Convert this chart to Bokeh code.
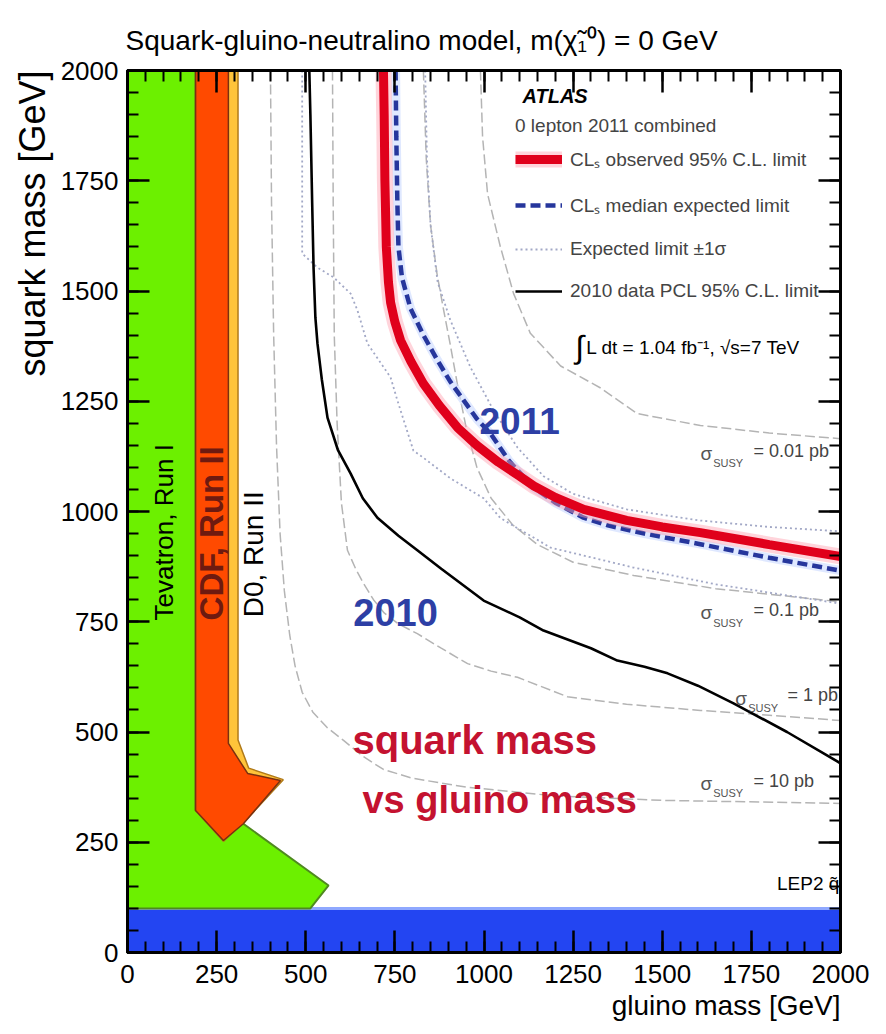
import math
from bokeh.plotting import figure
from bokeh.models import (Label, Legend, LegendItem, LinearAxis, Range1d, Title,
                          SingleIntervalTicker, CustomJSTickFormatter)
from bokeh.embed import file_html
from bokeh.resources import INLINE

FONT = "Liberation Sans"

# ---- limit curves, (gluino mass, squark mass) in GeV ----
obs_gluino = [718, 720, 722, 726, 732, 738, 750, 766, 795, 830, 875, 926, 980,
              1040, 1100, 1140, 1200, 1280, 1400, 1500, 1607, 1800, 2000]
obs_squark = [2000, 1900, 1750, 1600, 1520, 1474, 1430, 1388, 1340, 1290, 1240,
              1190, 1150, 1112, 1080, 1058, 1032, 1005, 980, 965, 952, 925, 898]

exp_gluino = [752, 754, 757, 760, 770, 794, 830, 870, 905, 943, 980, 1018, 1070,
              1139, 1200, 1279, 1350, 1450, 1600, 1800, 2000]
exp_squark = [2000, 1850, 1700, 1600, 1530, 1460, 1400, 1342, 1295, 1252, 1210,
              1177, 1115, 1054, 1020, 986, 968, 950, 927, 895, 866]

exp_up_gluino = [835, 840, 850, 870, 906, 962, 1027, 1094, 1167, 1250, 1400,
                 1600, 1800, 2000]
exp_up_squark = [2000, 1800, 1650, 1520, 1433, 1327, 1229, 1145, 1080, 1040,
                 1005, 980, 965, 955]

exp_dn_gluino = [490, 490, 533, 578, 626, 645, 673, 738, 757, 802, 830, 906, 999,
                 1046, 1187, 1419, 1650, 1888, 2000]
exp_dn_squark = [2000, 1585, 1553, 1531, 1494, 1456, 1381, 1304, 1252, 1138, 1122,
                 1075, 1030, 985, 918, 873, 835, 805, 791]

pcl2010_gluino = [510, 513, 518, 522, 527, 533, 545, 561, 590, 626, 660, 701, 760,
                  813, 880, 999, 1100, 1167, 1300, 1374, 1450, 1515, 1600, 1700,
                  1850, 2000]
pcl2010_squark = [2000, 1900, 1700, 1550, 1440, 1380, 1300, 1213, 1140, 1086,
                  1030, 986, 945, 912, 870, 798, 760, 730, 690, 662, 648, 633,
                  605, 565, 500, 429]

# ---- SUSY cross-section contours ----
xs10_gluino = [401, 404, 410, 418, 428, 440, 455, 470, 490, 520, 560, 606, 660,
               718, 800, 950, 1200, 1500, 2000]
xs10_squark = [2000, 1700, 1400, 1150, 950, 820, 720, 650, 590, 545, 510, 481,
               445, 415, 395, 375, 355, 345, 338]

xs1_gluino = [575, 577, 580, 588, 600, 617, 640, 662, 690, 720, 760, 813, 880,
              954, 1020, 1094, 1234, 1400, 1607, 1800, 2000]
xs1_squark = [2000, 1700, 1400, 1200, 1020, 912, 870, 837, 800, 770, 745, 723,
              690, 655, 638, 624, 580, 563, 549, 538, 526]

xs01_gluino = [830, 838, 850, 868, 886, 905, 925, 950, 980, 1020, 1080, 1150,
               1250, 1420, 1650, 1888, 2000]
xs01_squark = [2000, 1800, 1650, 1540, 1460, 1380, 1290, 1190, 1100, 1030, 970,
               925, 885, 855, 825, 805, 795]

xs001_gluino = [990, 996, 1010, 1046, 1083, 1130, 1215, 1327, 1430, 1607, 1800, 2000]
xs001_squark = [2000, 1850, 1720, 1600, 1494, 1404, 1330, 1280, 1222, 1195, 1178, 1165]

# ---- excluded regions from earlier experiments ----
tev1_gluino = [0, 0, 191, 191, 325, 564, 513]
tev1_squark = [100, 2000, 2000, 322, 292, 152, 100]

d0_gluino = [191, 310, 310, 340, 437, 330, 269, 191]
d0_squark = [2000, 2000, 482, 418, 392, 298, 252, 322]

cdf_gluino = [191, 283, 283, 337, 429, 325, 269, 191]
cdf_squark = [2000, 2000, 474, 406, 390, 292, 254, 322]

lep_gluino = [0, 2000]
lep_squark = [100, 100]

p = figure(width=886, height=1034, x_range=Range1d(0, 2000), y_range=Range1d(0, 2000),
           output_backend="svg", toolbar_location=None,
           min_border_left=127, min_border_right=46, min_border_top=70,
           min_border_bottom=82, background_fill_color="white",
           border_fill_color="white", outline_line_color="black",
           outline_line_width=3)
p.grid.visible = False

ticker = SingleIntervalTicker(interval=250, num_minor_ticks=5)
for ax in (p.xaxis[0], p.yaxis[0]):
    ax.ticker = ticker
    ax.major_tick_in = 22
    ax.major_tick_out = 0
    ax.minor_tick_in = 11
    ax.minor_tick_out = 0
    ax.major_tick_line_width = 2.5
    ax.minor_tick_line_width = 2
    ax.major_tick_line_color = "black"
    ax.minor_tick_line_color = "black"
    ax.axis_line_width = 3
    ax.axis_line_color = "black"
    ax.major_label_text_font = FONT
    ax.major_label_text_font_size = "26px"
    ax.major_label_text_color = "black"
p.xaxis.major_label_standoff = 12
p.yaxis.major_label_standoff = 9

blank = CustomJSTickFormatter(code="return ''")
for side in ("right", "above"):
    ax = LinearAxis(ticker=ticker, formatter=blank, major_tick_in=22, major_tick_out=0,
                    minor_tick_in=11, minor_tick_out=0, major_tick_line_width=2.5,
                    minor_tick_line_width=2, axis_line_width=3,
                    major_label_standoff=0, major_label_text_font_size="1px")
    p.add_layout(ax, side)

# page title and axis titles
p.add_layout(Title(text="Squark-gluino-neutralino model,  m(χ̃₁⁰) = 0 GeV",
                   align="left", offset=-2, standoff=30, text_font=FONT,
                   text_font_size="28px", text_font_style="normal",
                   text_color="black"), "above")
p.add_layout(Title(text="squark mass [GeV]", align="right", standoff=10,
                   text_font=FONT, text_font_size="36px",
                   text_font_style="normal", text_color="black"), "left")
p.add_layout(Title(text="gluino mass [GeV]", align="right", standoff=5,
                   text_font=FONT, text_font_size="28px",
                   text_font_style="normal", text_color="black"), "below")

# excluded regions
p.varea(x=lep_gluino, y1=0, y2=lep_squark, fill_color="#2345F2")
p.line(lep_gluino, lep_squark, line_color="#8FA8FF", line_width=3)
p.patch(tev1_gluino, tev1_squark, fill_color="#6CF000", line_color="#4f8a1f", line_width=2)
p.patch(d0_gluino, d0_squark, fill_color="#FFC43A", line_color="#b07a1a", line_width=1.5)
p.patch(cdf_gluino, cdf_squark, fill_color="#FF4A00", line_color="#7a3010", line_width=1.5)

# cross-section contours
for gx, sy in ((xs10_gluino, xs10_squark), (xs1_gluino, xs1_squark),
               (xs01_gluino, xs01_squark), (xs001_gluino, xs001_squark)):
    p.line(gx, sy, line_color="#b4b4b4", line_width=1.5, line_dash="10 4")

band_style = dict(line_color="#a2a8c6", line_width=1.8, line_dash="2 3")
r_up = p.line(exp_up_gluino, exp_up_squark, **band_style)
p.line(exp_dn_gluino, exp_dn_squark, **band_style)

r_2010 = p.line(pcl2010_gluino, pcl2010_squark, line_color="black", line_width=2.6)

r_exp_halo = p.line(exp_gluino, exp_squark, line_color="#c9d8ff", line_width=9, line_alpha=0.6)
r_exp = p.line(exp_gluino, exp_squark, line_color="#26369c", line_width=4.5, line_dash="10 5")

r_obs_halo = p.line(obs_gluino, obs_squark, line_color="#ff9fb0", line_width=16, line_alpha=0.45)
r_obs = p.line(obs_gluino, obs_squark, line_color="#e0001b", line_width=9)

legend = Legend(items=[
    LegendItem(label="CLₛ observed 95% C.L. limit", renderers=[r_obs_halo, r_obs]),
    LegendItem(label="CLₛ median expected limit", renderers=[r_exp]),
    LegendItem(label="Expected limit ±1σ", renderers=[r_up]),
    LegendItem(label="2010 data PCL 95% C.L. limit", renderers=[r_2010]),
], location=(388, 650), title="0 lepton 2011 combined",
    title_text_font=FONT, title_text_font_size="19px", title_text_font_style="normal",
    title_standoff=9, label_text_font=FONT, label_text_font_size="19px",
    glyph_width=47, glyph_height=20, label_height=20, label_standoff=8, spacing=20,
    padding=0, margin=0, border_line_color=None, background_fill_alpha=0)
p.add_layout(legend)


def label(x, y, text, size, color="black", style="normal", align="left",
          baseline="middle", angle=0.0):
    p.add_layout(Label(x=x, y=y, text=text, text_font=FONT, text_font_size=size,
                       text_color=color, text_font_style=style, text_align=align,
                       text_baseline=baseline, angle=angle))


# header texts
label(1108, 1943, "ATLAS", "20px", style="bold italic")
label(1256, 1372, "∫", "32px")
label(1287, 1372, "L dt = 1.04 fb⁻¹, √s=7 TeV", "19px")

# region captions
label(1100, 1206, "2011", "37px", color="#2d3fa5", style="bold", align="center")
label(752, 771, "2010", "38px", color="#2d3fa5", style="bold", align="center")
label(631, 481, "squark  mass", "40px", color="#c41230", style="bold")
label(659, 345, "vs gluino mass", "38px", color="#c41230", style="bold")

label(101, 753, "Tevatron, Run I", "26px", angle=math.pi / 2)
label(236, 753, "CDF, Run II", "33px", color="#6e1a10", style="bold", angle=math.pi / 2)
label(353, 760, "D0, Run II", "28px", angle=math.pi / 2)
label(1822, 156, "LEP2 q̃", "19px")

# cross-section labels
for sx, sy, ex, txt in ((1607, 1138, 1756, "= 0.01 pb"), (1607, 776, 1756, "= 0.1 pb"),
                        (1705, 583, 1851, "= 1 pb"), (1607, 390, 1756, "= 10 pb")):
    label(sx, sy - 6, "σ", "19px", color="#555555")
    label(sx + 36, sy - 28, "SUSY", "11px", color="#555555")
    label(ex, sy, txt, "18px", color="#444444")

open("out.html", "w").write(file_html(p, INLINE))
